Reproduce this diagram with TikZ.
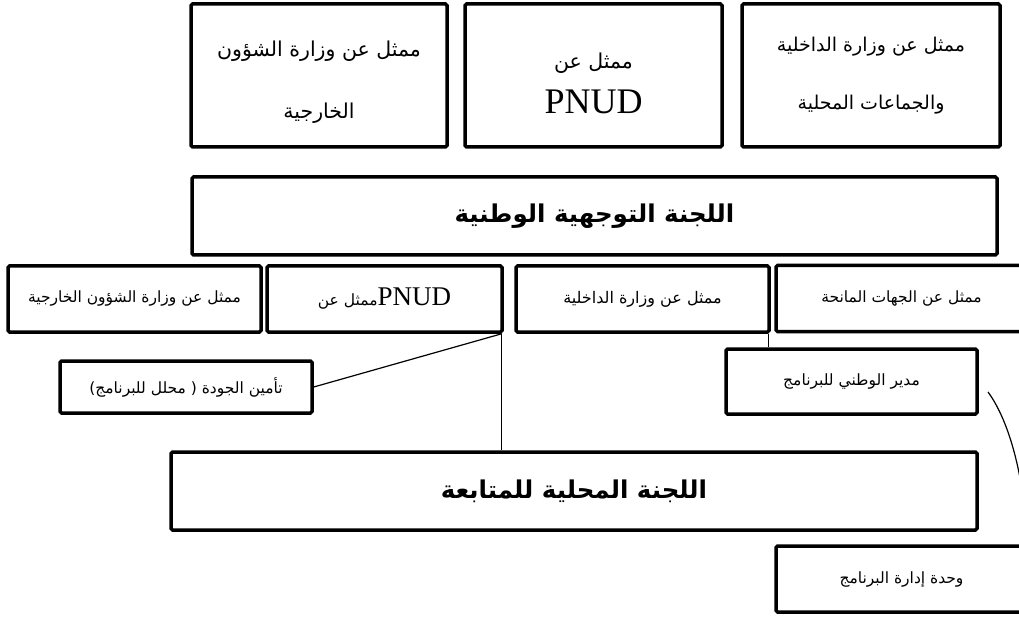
\documentclass[tikz,border=0pt]{standalone}
\usepackage{fontspec}
\setmainfont{Liberation Serif}
\newfontfamily\arfont[Script=Arabic]{DejaVu Sans}
\TeXXeTstate=1
\newcommand\artext[1]{{\arfont\beginR #1\endR}}
% invisible strut that pushes a first line further down in its box
\newcommand\topstrut[1]{\rule{0pt}{#1}}

\tikzset{
  box/.style={draw, line width=3.5pt, rounded corners=1.5pt, inner sep=0pt, align=center},
  toprow/.style={box, minimum height=143pt, font=\fontsize{20.5}{62}\selectfont},
  midrow/.style={box, minimum height=66pt, font=\fontsize{15.5}{18}\selectfont},
  committee/.style={box, minimum height=78pt, font=\bfseries\fontsize{24.5}{28}\selectfont},
  link/.style={line width=1.2pt}
}

\begin{document}
\begin{tikzpicture}[x=1pt,y=-1pt]
\useasboundingbox (0,0) rectangle (1019,617);
\clip (0,0) rectangle (1019,617);

% top row of representatives
\node[toprow, minimum width=256pt] (A) at (319,75.5)
  {\topstrut{30pt}\artext{ممثل عن وزارة الشؤون}\\\artext{الخارجية}};
\node[toprow, minimum width=257pt, font=\fontsize{20.5}{45}\selectfont] (B) at (593.5,75.5)
  {\topstrut{31pt}\artext{ممثل عن}\\{\fontsize{36}{40}\selectfont PNUD}};
\node[toprow, minimum width=258pt, font=\fontsize{19}{58}\selectfont] (C) at (871,75.5)
  {\artext{ممثل عن وزارة الداخلية}\\\artext{والجماعات المحلية}};

% national steering committee
\node[committee, minimum width=805pt] (N) at (594.5,216)
  {\artext{اللجنة التوجهية الوطنية}};

% second row of representatives
\node[midrow, minimum width=253pt] (D) at (134.5,299)
  {\artext{ممثل عن وزارة الشؤون الخارجية}};
\node[midrow, minimum width=235pt] (E) at (384.5,299)
  {\artext{ممثل عن}{\fontsize{27}{29}\selectfont PNUD}};
\node[midrow, minimum width=253pt, font=\fontsize{16}{18}\selectfont] (F) at (642.5,299)
  {\artext{ممثل عن وزارة الداخلية}};
\node[midrow, minimum width=251pt] (G) at (901.5,298.5)
  {\artext{ممثل عن الجهات المانحة}};

% programme roles
\node[midrow, minimum width=251pt, minimum height=65pt] (H) at (851.5,381.5)
  {\artext{مدير الوطني للبرنامج}};
\node[midrow, minimum width=252pt, minimum height=52pt] (I) at (186,387)
  {\artext{تأمين الجودة ( محلل للبرنامج)}};

% local follow-up committee
\node[committee, minimum width=806pt] (L) at (574,491)
  {\artext{اللجنة المحلية للمتابعة}};

\node[midrow, minimum width=251pt] (J) at (901.5,579)
  {\artext{وحدة إدارة البرنامج}};

% connectors
\coordinate (e) at ([xshift=-2pt]E.south east);
\draw[link] (e) -- (I.east);
\draw[link] (e) -- (e |- L.north);
\coordinate (f) at ([xshift=-2pt]F.south east);
\draw[link] (f) -- (f |- H.north);
\coordinate (hc) at (988,392);
\draw[link] (hc) .. controls (1005,415) and (1028,470) .. (J.east);
\end{tikzpicture}
\end{document}
